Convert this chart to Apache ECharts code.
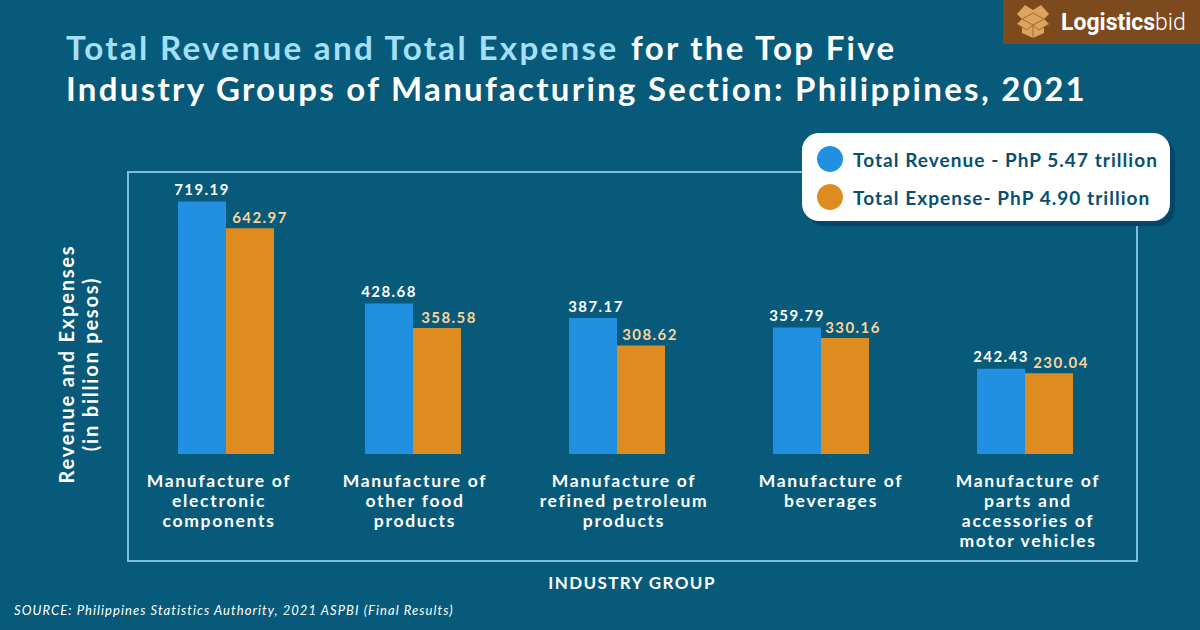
<!DOCTYPE html>
<html>
<head>
<meta charset="utf-8">
<style>
html,body{margin:0;padding:0;background:#075a7a}
#chart{width:1200px;height:630px}
#chart text{letter-spacing:1.4px}
#chart text[style*="33px"]{letter-spacing:2.3px}
#chart text[style*="33.2px"]{letter-spacing:2.3px}
#chart text[style*="19px"]{letter-spacing:1.05px}
#chart text[style*="20px"]{letter-spacing:1.8px}
#chart text[style*="17.5px"]{letter-spacing:1.7px}
#chart text[style*="15px"]{letter-spacing:1.4px}
#chart text[style*="13px"]{letter-spacing:1.07px}
#chart text[style*="23px"]{letter-spacing:0}
</style>
<script src="https://cdn.jsdelivr.net/npm/echarts@6/dist/echarts.min.js"></script>
</head>
<body>
<div id="chart"></div>
<script>
const categories = [
  'Manufacture of\nelectronic\ncomponents',
  'Manufacture of\nother food\nproducts',
  'Manufacture of\nrefined petroleum\nproducts',
  'Manufacture of\nbeverages',
  'Manufacture of\nparts and\naccessories of\nmotor vehicles'
];
const revenue = [719.19, 428.68, 387.17, 359.79, 242.43];
const expense = [642.97, 358.58, 308.62, 330.16, 230.04];
const revenueName = 'Total Revenue - PhP 5.47 trillion';
const expenseName = 'Total Expense- PhP 4.90 trillion';
const labelShift = [-7, 2, 7, 10, 3];
const revenueLabelShift = [0, 0, 3, 0, 0];
const expenseLabelShift = [10, 12, 9, 8, 12];

const FONT = 'Lato';
const BLUE = '#2190e0', ORANGE = '#de8b20', NAVY = '#07506f';

const catItem = (name, shift) => ({
  value: name,
  textStyle: {padding: shift >= 0 ? [0, 0, 0, 2 * shift] : [0, -2 * shift, 0, 0]}
});
const xAxisFor = (i, cats, shifts) => ({
  type: 'category', gridIndex: i, data: cats.map((c, k) => catItem(c, shifts[k])),
  axisLine: {show: false}, axisTick: {show: false},
  axisLabel: {color: '#fff', fontFamily: FONT, fontWeight: 'bold', fontSize: 17.5, lineHeight: 20, margin: 16, interval: 0}
});
const yAxisFor = i => ({type: 'value', gridIndex: i, min: 0, max: 800, show: false, splitLine: {show: false}});
const withShift = (vals, shifts) => vals.map((v, k) => ({value: v, label: {offset: [shifts[k], 0]}}));
const seriesFor = (i, from, to) => [
  {name: revenueName, type: 'bar', xAxisIndex: i, yAxisIndex: i, barWidth: 48, barGap: 0,
   data: withShift(revenue.slice(from, to), revenueLabelShift.slice(from, to)),
   itemStyle: {color: BLUE}, z: 3,
   label: {show: true, position: 'top', distance: 5, color: '#fff', fontFamily: FONT, fontWeight: 'bold', fontSize: 15, formatter: p => p.value.toFixed(2)}},
  {name: expenseName, type: 'bar', xAxisIndex: i, yAxisIndex: i, barWidth: 48, barGap: 0,
   data: withShift(expense.slice(from, to), expenseLabelShift.slice(from, to)),
   itemStyle: {color: ORANGE}, z: 3,
   label: {show: true, position: 'top', distance: 4, color: '#fbd29a', fontFamily: FONT, fontWeight: 'bold', fontSize: 15, formatter: p => p.value.toFixed(2)}}
];
const boxColor = '#dca45c', boxLine = '#a06c30';
const line = points => ({type: 'polyline', shape: {points}, style: {fill: 'none', stroke: boxLine, lineWidth: 1}, z: 12, silent: true});

const option = {
  backgroundColor: '#075a7a',
  animation: false,
  title: [
    {text: 'Total Revenue and Total Expense', left: 66, top: 30, padding: 0, textStyle: {color: '#a3e0f8', fontFamily: FONT, fontWeight: 'bold', fontSize: 33.2}},
    {text: 'for the Top Five', left: 631, top: 30, padding: 0, textStyle: {color: '#fff', fontFamily: FONT, fontWeight: 'bold', fontSize: 33}},
    {text: 'Industry Groups of Manufacturing Section: Philippines, 2021', left: 66, top: 71, padding: 0, textStyle: {color: '#fff', fontFamily: FONT, fontWeight: 'bold', fontSize: 33}},
    {text: 'INDUSTRY GROUP', left: 632, top: 574, textAlign: 'center', padding: 0, textStyle: {color: '#fff', fontFamily: FONT, fontWeight: 'bold', fontSize: 17}},
    {text: 'SOURCE: Philippines Statistics Authority, 2021 ASPBI (Final Results)', left: 14, top: 603, padding: 0, textStyle: {color: '#fff', fontFamily: FONT, fontStyle: 'italic', fontWeight: 'normal', fontSize: 13}}
  ],
  grid: [
    {left: 124, width: 204, top: 173, height: 281},
    {left: 311, width: 816, top: 173, height: 281}
  ],
  xAxis: [xAxisFor(0, categories.slice(0, 1), labelShift.slice(0, 1)), xAxisFor(1, categories.slice(1), labelShift.slice(1))],
  yAxis: [yAxisFor(0), yAxisFor(1)],
  series: [...seriesFor(0, 0, 1), ...seriesFor(1, 1, 5)],
  legend: {
    data: [revenueName, expenseName], orient: 'vertical', left: 817, top: 146,
    padding: 0, itemGap: 12, itemWidth: 26, itemHeight: 26, icon: 'circle',
    selectedMode: false, z: 10,
    textStyle: {color: NAVY, fontFamily: FONT, fontWeight: 'bold', fontSize: 19, padding: [0, 0, 0, 5]}
  },
  graphic: [
    {type: 'rect', shape: {x: 128, y: 172, width: 1009, height: 389}, style: {fill: 'none', stroke: '#7ac0dc', lineWidth: 2}, z: 1, silent: true},
    {type: 'rect', shape: {x: 807, y: 138, width: 368, height: 88, r: 17}, style: {fill: '#04466a'}, z: 2, silent: true},
    {type: 'rect', shape: {x: 802, y: 133, width: 368, height: 88, r: 17}, style: {fill: '#fff'}, z: 2, silent: true},
    {type: 'text', x: 78, y: 364, rotation: Math.PI / 2, style: {text: 'Revenue and Expenses\n(in billion pesos)', fill: '#fff', font: 'bold 20px ' + FONT, lineHeight: 24, align: 'center', verticalAlign: 'middle'}, z: 5, silent: true},
    {type: 'rect', shape: {x: 1003, y: 0, width: 197, height: 44}, style: {fill: '#7d4a1e'}, z: 10, silent: true},
    {type: 'polygon', shape: {points: [[1025,5],[1033,10],[1041,5],[1049,14],[1044,19],[1049,24],[1044,27],[1044,33],[1033,38],[1022,33],[1022,27],[1017,24],[1022,19],[1017,14]]}, style: {fill: boxColor}, z: 11, silent: true},
    line([[1022,19],[1033,13],[1044,19],[1033,25],[1022,19]]),
    line([[1033,25],[1033,38]]),
    line([[1017,24],[1027,30],[1033,25],[1039,30],[1049,24]]),
    {type: 'text', x: 1061, y: 22, style: {text: 'Logistics', fill: '#fff', font: 'bold 23px Roboto', align: 'left', verticalAlign: 'middle'}, z: 11, silent: true},
    {type: 'text', x: 1155, y: 22, style: {text: 'bid', fill: '#fff', font: '300 23px Roboto', align: 'left', verticalAlign: 'middle'}, z: 11, silent: true}
  ]
};
const chart = echarts.init(document.getElementById('chart'), null, {renderer: 'svg', width: 1200, height: 630});
chart.setOption(option);
</script>
</body>
</html>
